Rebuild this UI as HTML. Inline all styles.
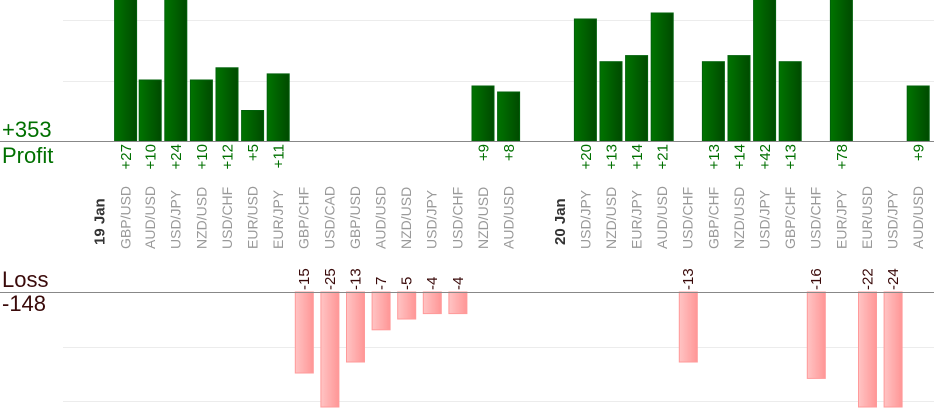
<!DOCTYPE html>
<html><head><meta charset="utf-8"><style>
html,body{margin:0;padding:0;background:#fff;width:934px;height:420px;overflow:hidden}
svg{display:block;font-family:"Liberation Sans",Arial,sans-serif}
.pl{font-size:14px;fill:#999}
.pv{font-size:15px;fill:#007000}
.lv{font-size:15px;fill:#3a0a0a}
</style></head><body>
<svg width="934" height="420" viewBox="0 0 934 420" xmlns="http://www.w3.org/2000/svg">
<defs>
<linearGradient id="g" x1="0" x2="1" y1="0" y2="0"><stop offset="0" stop-color="#007400"/><stop offset="1" stop-color="#004a00"/></linearGradient>
<linearGradient id="r" x1="0" x2="1" y1="0" y2="0"><stop offset="0" stop-color="#ffc4c4"/><stop offset="1" stop-color="#ff9696"/></linearGradient>
</defs>
<g stroke="#ececec" stroke-width="1">
<line x1="63" x2="934" y1="20.5" y2="20.5"/><line x1="63" x2="934" y1="81.5" y2="81.5"/>
<line x1="63" x2="934" y1="347.5" y2="347.5"/><line x1="63" x2="934" y1="401.5" y2="401.5"/>
</g>
<g fill="url(#g)" stroke="#00600a" stroke-width="1">
<rect x="114.6" y="-2" width="22" height="143"/>
<rect x="139.2" y="80" width="22" height="61"/>
<rect x="164.8" y="-2" width="22" height="143"/>
<rect x="190.4" y="80" width="22" height="61"/>
<rect x="216" y="67.8" width="22" height="73.2"/>
<rect x="241.6" y="110.5" width="22" height="30.5"/>
<rect x="267.2" y="73.9" width="22" height="67.1"/>
<rect x="472" y="86" width="22" height="55"/>
<rect x="497.6" y="92" width="22" height="49"/>
<rect x="574.4" y="19" width="22" height="122"/>
<rect x="600" y="61.7" width="22" height="79.3"/>
<rect x="625.6" y="55.6" width="22" height="85.4"/>
<rect x="651.2" y="13" width="22" height="128"/>
<rect x="702.4" y="61.7" width="22" height="79.3"/>
<rect x="728" y="55.6" width="22" height="85.4"/>
<rect x="753.6" y="-2" width="22" height="143"/>
<rect x="779.2" y="61.7" width="22" height="79.3"/>
<rect x="830.4" y="-2" width="22" height="143"/>
<rect x="907.2" y="86" width="22" height="55"/>
</g>
<g fill="url(#r)" stroke="#ff9a9a" stroke-width="1">
<rect x="295.3" y="292" width="18" height="81"/>
<rect x="320.9" y="292" width="18" height="115"/>
<rect x="346.5" y="292" width="18" height="70"/>
<rect x="372.1" y="292" width="18" height="37.8"/>
<rect x="397.7" y="292" width="18" height="27"/>
<rect x="423.3" y="292" width="18" height="21.6"/>
<rect x="448.9" y="292" width="18" height="21.6"/>
<rect x="679.3" y="292" width="18" height="70"/>
<rect x="807.3" y="292" width="18" height="86.4"/>
<rect x="858.5" y="292" width="18" height="115"/>
<rect x="884.1" y="292" width="18" height="115"/>
</g>
<line x1="0" x2="934" y1="141.5" y2="141.5" stroke="#888" stroke-width="1"/>
<line x1="0" x2="934" y1="292.5" y2="292.5" stroke="#888" stroke-width="1"/>
<text x="2" y="137" font-size="22" fill="#007000">+353</text>
<text x="2" y="163" font-size="22" fill="#007000">Profit</text>
<text x="2" y="287" font-size="22" fill="#3a0a0a">Loss</text>
<text x="2" y="311" font-size="22" fill="#3a0a0a">-148</text>
<g class="pv" text-anchor="end">
<text transform="translate(131,144) rotate(-90)">+27</text>
<text transform="translate(155.6,144) rotate(-90)">+10</text>
<text transform="translate(181.2,144) rotate(-90)">+24</text>
<text transform="translate(206.8,144) rotate(-90)">+10</text>
<text transform="translate(232.4,144) rotate(-90)">+12</text>
<text transform="translate(258,144) rotate(-90)">+5</text>
<text transform="translate(283.6,144) rotate(-90)">+11</text>
<text transform="translate(488.4,144) rotate(-90)">+9</text>
<text transform="translate(514,144) rotate(-90)">+8</text>
<text transform="translate(590.8,144) rotate(-90)">+20</text>
<text transform="translate(616.4,144) rotate(-90)">+13</text>
<text transform="translate(642,144) rotate(-90)">+14</text>
<text transform="translate(667.6,144) rotate(-90)">+21</text>
<text transform="translate(718.8,144) rotate(-90)">+13</text>
<text transform="translate(744.4,144) rotate(-90)">+14</text>
<text transform="translate(770,144) rotate(-90)">+42</text>
<text transform="translate(795.6,144) rotate(-90)">+13</text>
<text transform="translate(846.8,144) rotate(-90)">+78</text>
<text transform="translate(923.6,144) rotate(-90)">+9</text>
</g>
<g class="lv" text-anchor="start">
<text transform="translate(309.2,290) rotate(-90)">-15</text>
<text transform="translate(334.8,290) rotate(-90)">-25</text>
<text transform="translate(360.4,290) rotate(-90)">-13</text>
<text transform="translate(386,290) rotate(-90)">-7</text>
<text transform="translate(411.6,290) rotate(-90)">-5</text>
<text transform="translate(437.2,290) rotate(-90)">-4</text>
<text transform="translate(462.8,290) rotate(-90)">-4</text>
<text transform="translate(693.2,290) rotate(-90)">-13</text>
<text transform="translate(821.2,290) rotate(-90)">-16</text>
<text transform="translate(872.4,290) rotate(-90)">-22</text>
<text transform="translate(898,290) rotate(-90)">-24</text>
</g>
<g class="pl">
<text transform="translate(104.5,245) rotate(-90)" style="fill:#333;font-weight:bold;font-size:15px">19 Jan</text>
<text transform="translate(130.5,249) rotate(-90)">GBP/USD</text>
<text transform="translate(155.1,249) rotate(-90)">AUD/USD</text>
<text transform="translate(180.7,249) rotate(-90)">USD/JPY</text>
<text transform="translate(206.3,249) rotate(-90)">NZD/USD</text>
<text transform="translate(231.9,249) rotate(-90)">USD/CHF</text>
<text transform="translate(257.5,249) rotate(-90)">EUR/USD</text>
<text transform="translate(283.1,249) rotate(-90)">EUR/JPY</text>
<text transform="translate(308.7,249) rotate(-90)">GBP/CHF</text>
<text transform="translate(334.3,249) rotate(-90)">USD/CAD</text>
<text transform="translate(359.9,249) rotate(-90)">GBP/USD</text>
<text transform="translate(385.5,249) rotate(-90)">AUD/USD</text>
<text transform="translate(411.1,249) rotate(-90)">NZD/USD</text>
<text transform="translate(436.7,249) rotate(-90)">USD/JPY</text>
<text transform="translate(462.3,249) rotate(-90)">USD/CHF</text>
<text transform="translate(487.9,249) rotate(-90)">NZD/USD</text>
<text transform="translate(513.5,249) rotate(-90)">AUD/USD</text>
<text transform="translate(565.2,245) rotate(-90)" style="fill:#333;font-weight:bold;font-size:15px">20 Jan</text>
<text transform="translate(590.3,249) rotate(-90)">USD/JPY</text>
<text transform="translate(615.9,249) rotate(-90)">NZD/USD</text>
<text transform="translate(641.5,249) rotate(-90)">EUR/JPY</text>
<text transform="translate(667.1,249) rotate(-90)">AUD/USD</text>
<text transform="translate(692.7,249) rotate(-90)">USD/CHF</text>
<text transform="translate(718.3,249) rotate(-90)">GBP/CHF</text>
<text transform="translate(743.9,249) rotate(-90)">NZD/USD</text>
<text transform="translate(769.5,249) rotate(-90)">USD/JPY</text>
<text transform="translate(795.1,249) rotate(-90)">GBP/CHF</text>
<text transform="translate(820.7,249) rotate(-90)">USD/CHF</text>
<text transform="translate(846.3,249) rotate(-90)">EUR/JPY</text>
<text transform="translate(871.9,249) rotate(-90)">EUR/USD</text>
<text transform="translate(897.5,249) rotate(-90)">USD/JPY</text>
<text transform="translate(923.1,249) rotate(-90)">AUD/USD</text>
</g>
</svg>
</body></html>
